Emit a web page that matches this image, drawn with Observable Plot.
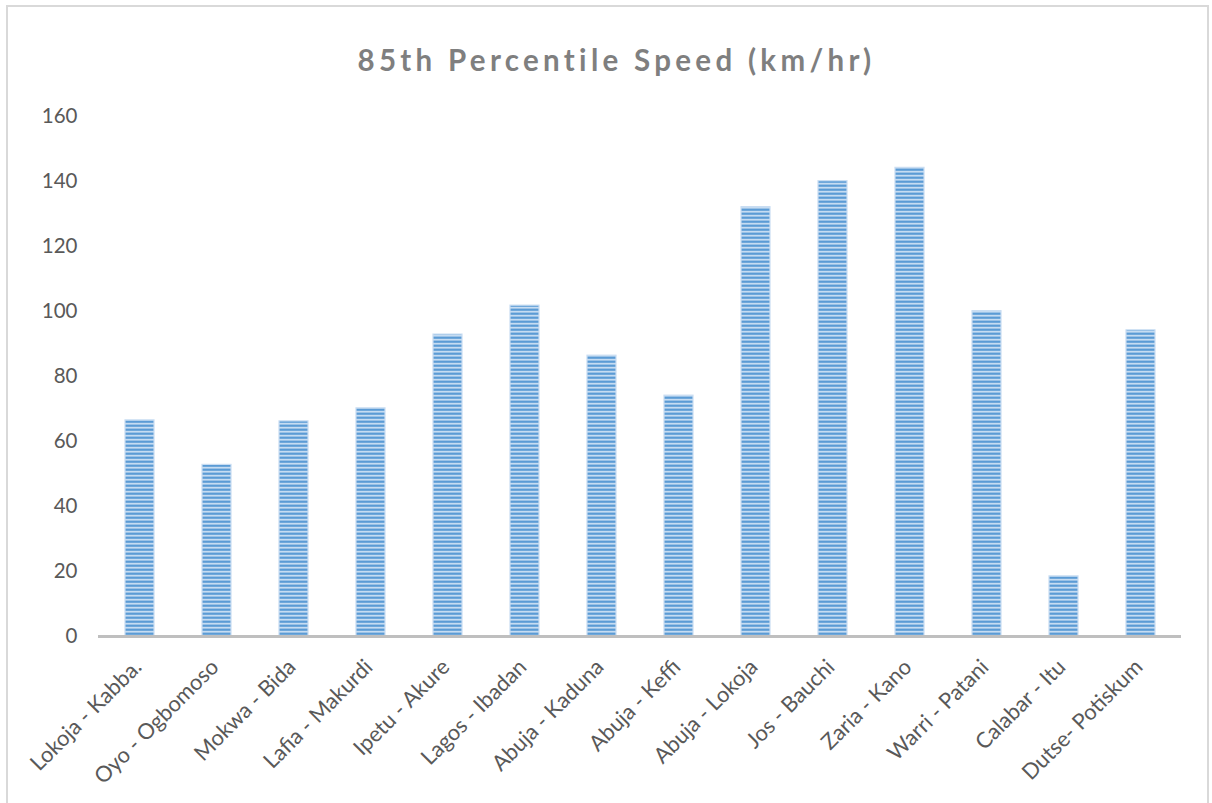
<!DOCTYPE html>
<html>
<head>
<meta charset="utf-8">
<script src="https://cdn.jsdelivr.net/npm/d3@7"></script>
<script src="https://cdn.jsdelivr.net/npm/@observablehq/plot@0.6"></script>
<style>
  html, body { margin: 0; padding: 0; background: #fff; overflow: hidden; }
  #wrap { position: relative; width: 1212px; height: 803px; }
  #frame {
    position: absolute; left: 6px; top: 5px; width: 1203px; height: 820px;
    border: 2px solid #d9d9d9; box-sizing: border-box;
  }
  #title {
    position: absolute; left: 0; width: 1233px; top: 42px; text-align: center;
    font-family: Lato, "Open Sans", sans-serif; font-weight: bold; font-size: 29.5px;
    letter-spacing: 4.3px; color: #7f7f7f;
  }
  #chart { position: absolute; left: 0; top: 0; }
</style>
</head>
<body>
<div id="wrap">
  <div id="frame"></div>
  <div id="title">85th Percentile Speed (km/hr)</div>
  <div id="chart"></div>
</div>
<script>
// Road corridors and their 85th percentile speeds (km/hr)
const roads = [
  "Lokoja - Kabba.", "Oyo - Ogbomoso", "Mokwa - Bida", "Lafia - Makurdi",
  "Ipetu - Akure", "Lagos - Ibadan", "Abuja - Kaduna", "Abuja - Keffi",
  "Abuja - Lokoja", "Jos - Bauchi", "Zaria - Kano", "Warri - Patani",
  "Calabar - Itu", "Dutse- Potiskum"
];
const speeds = [66.5, 52.8, 66.2, 70.2, 92.9, 101.8, 86.4, 74.1, 132.1, 140.1, 144.2, 100.1, 18.5, 94.2];
const yTicks = [0, 20, 40, 60, 80, 100, 120, 140, 160];

const data = roads.map((road, i) => ({road, speed: speeds[i]}));

const font = "Lato, 'Open Sans', sans-serif";

const chart = Plot.plot({
  width: 1212,
  height: 803,
  marginTop: 116,
  marginBottom: 167,
  marginLeft: 98,
  marginRight: 31,
  style: {fontFamily: font, background: "transparent", overflow: "visible"},
  x: {domain: roads, paddingInner: 0.625, paddingOuter: 0.3125, axis: null},
  y: {domain: [0, 160], axis: null},
  marks: [
    // striped bars
    Plot.barY(data, {
      x: "road", y: "speed",
      fill: "url(#hstripes)",
      stroke: "#c9ddf2", strokeWidth: 1.2
    }),
    // category axis baseline
    Plot.ruleY([0], {stroke: "#bfbfbf", strokeWidth: 3}),
    // y tick labels
    Plot.text(yTicks, {
      y: d => d, text: d => String(d), frameAnchor: "left",
      textAnchor: "end", dx: -21, fontSize: 20.5, fill: "#595959"
    }),
    // rotated category labels
    Plot.text(roads, {
      x: d => d, text: d => d, frameAnchor: "bottom",
      rotate: -45, textAnchor: "end", lineAnchor: "middle",
      dx: -2, dy: 27, fontSize: 21.8, fill: "#595959"
    })
  ]
});

// horizontal stripe pattern used by the bars
const defs = d3.select(chart).insert("defs", ":first-child");
const pat = defs.append("pattern")
  .attr("id", "hstripes")
  .attr("patternUnits", "userSpaceOnUse")
  .attr("width", 8).attr("height", 4);
pat.append("rect").attr("width", 8).attr("height", 4).attr("fill", "#c6dcf2");
pat.append("rect").attr("y", 0.6).attr("width", 8).attr("height", 2.2).attr("fill", "#5b9bd5");

document.getElementById("chart").appendChild(chart);
</script>
</body>
</html>
